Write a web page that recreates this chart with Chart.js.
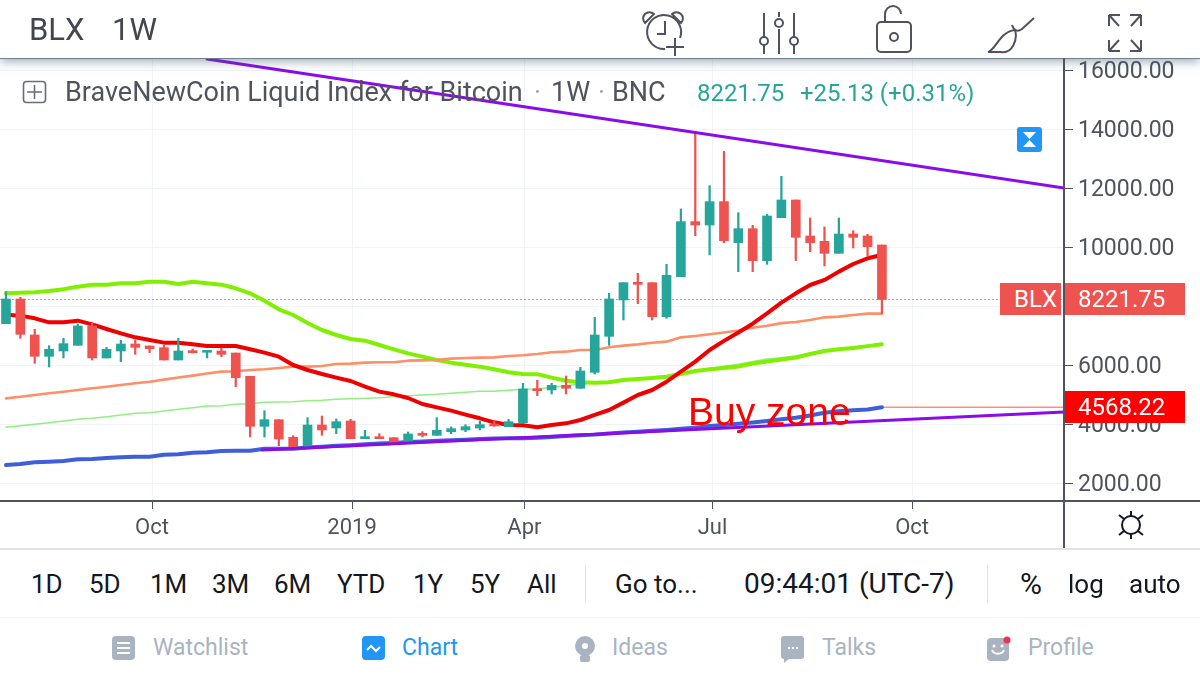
<!DOCTYPE html>
<html lang="en">
<head>
  <meta charset="UTF-8" />
  <title>BLX 1W</title>
  <script src="https://cdn.jsdelivr.net/npm/chart.js"></script>
  <style>
    html, body { margin: 0; padding: 0; background: #fff; }
    body { width: 1200px; height: 675px; position: relative; overflow: hidden; font-family: Roboto, sans-serif; color: #131722; }
    canvas { position: absolute; left: 0; top: 58px; }
    .t { position: absolute; white-space: pre; transform: translateY(-50%); line-height: 1; }
    .hd { font-size: 31px; color: #434651; top: 29px; }
    .lg { font-size: 27px; color: #50535e; top: 92px; }
    .pc { font-size: 24px; color: #26a69a; top: 93px; }
    .rg { font-size: 26px; top: 584px; }
    .nv { font-size: 23px; color: #aab4c0; top: 647px; }
    .box { position: absolute; color: #fff; font-size: 24px; line-height: 32px; height: 32px; white-space: pre; }
    .ln { position: absolute; }
    svg { position: absolute; }
  </style>
</head>
<body>
  <canvas id="grafico" width="1200" height="490"></canvas>

  <!-- barra superior -->
  <div class="ln" style="left:0;top:0;width:1200px;height:58px;background:#fff;box-shadow:0 2px 10px rgba(70,90,110,.55);border-bottom:1px solid #6f8090"></div>
  <span class="t hd" style="left:29px">BLX</span>
  <span class="t hd" style="left:112px">1W</span>
  <svg style="left:640px;top:8px" width="60" height="50" fill="none" stroke="#50535e" stroke-width="2">
    <path d="M25 41A17 17 0 1 1 40 30M25 13v13h-8M5 15a6 6 0 0 1 9-9zM41 15a6 6 0 0 0-9-9zM26 39h18M35 30v18"/>
  </svg>
  <svg style="left:755px;top:8px" width="48" height="50" fill="none" stroke="#50535e" stroke-width="2">
    <path d="M9 5v24M9 37v9M24 4v5M24 21v25M39 5v24M39 37v9"/><circle cx="9" cy="33" r="4"/><circle cx="24" cy="15" r="4"/><circle cx="39" cy="33" r="4"/>
  </svg>
  <svg style="left:870px;top:2px" width="48" height="54" fill="none" stroke="#50535e" stroke-width="2">
    <rect x="7" y="20" width="34" height="30" rx="4"/><circle cx="24" cy="35" r="4"/><path d="M15 20v-8a8 8 0 0 1 16 0"/>
  </svg>
  <svg style="left:980px;top:8px" width="56" height="50" fill="none" stroke="#50535e" stroke-width="2">
    <path d="M8 44c8-2 11-20 27-22 3 10-3 24-14 22zM8 44h13M32 17c2 6 6 7 10 4l12-11"/>
  </svg>
  <svg style="left:1105px;top:10px" width="40" height="46" fill="none" stroke="#50535e" stroke-width="2">
    <path d="M4 5h11M4 5v11M4 5l10 11M36 5h-11M36 5v11M36 5l-10 11M4 41h11M4 41v-11M4 41l10-11M36 41h-11M36 41v-11M36 41l-10-11"/>
  </svg>

  <!-- leyenda -->
  <svg style="left:22px;top:80px" width="26" height="25" fill="none" stroke="#6a6d78" stroke-width="1.6">
    <rect x="1.5" y="1.5" width="22" height="21" rx="3"/><path d="M12.5 5v14M5 12h15"/>
  </svg>
  <span class="t lg" style="left:65px">BraveNewCoin Liquid Index for Bitcoin</span>
  <span class="t lg" style="left:534px;color:#a0a3ac">·</span>
  <span class="t lg" style="left:551px">1W</span>
  <span class="t lg" style="left:598px;color:#a0a3ac">·</span>
  <span class="t lg" style="left:612px">BNC</span>
  <span class="t pc" style="left:697px">8221.75</span>
  <span class="t pc" style="left:800px">+25.13 (+0.31%)</span>

  <svg style="left:1017px;top:127px" width="25" height="25">
    <rect width="25" height="25" rx="3" fill="#2196f3"/><path d="M6 5h13l-6.5 7zM6 20h13l-6.5-7z" fill="#fff"/>
  </svg>

  <!-- etiquetas de precio -->
  <div class="box" style="left:1000px;top:283px;width:61px;background:#ef5350;text-indent:14px">BLX</div>
  <div class="box" style="left:1064px;top:283px;width:121px;background:#ef5350;text-indent:14px">8221.75</div>
  <div class="box" style="left:1064px;top:391px;width:121px;background:#f00;text-indent:14px">4568.22</div>
  <span class="t" style="left:688px;top:412px;font:39px 'Liberation Sans',sans-serif;color:#f00;transform:translateY(-50%)">Buy zone</span>

  <!-- lineas de los ejes -->
  <div class="ln" style="left:1063px;top:58px;width:2px;height:490px;background:#50535e"></div>
  <div class="ln" style="left:1064px;top:500px;width:136px;height:2px;background:#50535e"></div>
  <div class="ln" style="left:0;top:548px;width:1200px;height:2px;background:#e0e3eb"></div>
  <div class="ln" style="left:0;top:617px;width:1200px;height:1px;background:#f0f3fa"></div>
  <div class="ln" style="left:585px;top:565px;width:1px;height:38px;background:#e0e3eb"></div>
  <div class="ln" style="left:987px;top:565px;width:1px;height:38px;background:#e0e3eb"></div>
  <svg style="left:1116px;top:510px" width="30" height="30" fill="none" stroke="#131722" stroke-width="2">
    <circle cx="15" cy="15" r="9"/><path d="M15 1v5M15 24v5M3 5l5 4M27 5l-5 4M3 25l5-4M27 25l-5-4"/>
  </svg>

  <!-- rango -->
  <span class="t rg" style="left:31px">1D</span>
  <span class="t rg" style="left:89px">5D</span>
  <span class="t rg" style="left:150px">1M</span>
  <span class="t rg" style="left:212px">3M</span>
  <span class="t rg" style="left:274px">6M</span>
  <span class="t rg" style="left:337px">YTD</span>
  <span class="t rg" style="left:413px">1Y</span>
  <span class="t rg" style="left:470px">5Y</span>
  <span class="t rg" style="left:527px">All</span>
  <span class="t rg" style="left:615px">Go to...</span>
  <span class="t rg" style="left:744px;font-size:28px">09:44:01 (UTC-7)</span>
  <span class="t rg" style="left:1020px;font-size:30px">%</span>
  <span class="t rg" style="left:1068px">log</span>
  <span class="t rg" style="left:1129px">auto</span>

  <!-- navegacion -->
  <svg style="left:112px;top:636px" width="23" height="24"><rect width="23" height="24" rx="4" fill="#aab4c0"/><path d="M5 7h13M5 12h13M5 17h13" stroke="#fff" stroke-width="2"/></svg>
  <span class="t nv" style="left:153px">Watchlist</span>
  <svg style="left:362px;top:636px" width="23" height="24"><rect width="23" height="24" rx="4" fill="#2196f3"/><path d="M5 14l4-4 5 5 4-4" stroke="#fff" stroke-width="2" fill="none"/></svg>
  <span class="t nv" style="left:402px;color:#2196f3">Chart</span>
  <svg style="left:574px;top:636px" width="22" height="26"><circle cx="11" cy="10" r="10" fill="#aab4c0"/><rect x="6" y="19" width="10" height="7" rx="2" fill="#aab4c0"/><circle cx="11" cy="10" r="3" fill="#fff"/></svg>
  <span class="t nv" style="left:612px">Ideas</span>
  <svg style="left:781px;top:636px" width="23" height="27"><path d="M3 0h17a3 3 0 0 1 3 3v17a3 3 0 0 1-3 3H8l-5 4v-4a3 3 0 0 1-3-3V3a3 3 0 0 1 3-3z" fill="#aab4c0"/><path d="M7 12h2M11 12h2M15 12h2" stroke="#fff" stroke-width="2"/></svg>
  <span class="t nv" style="left:822px">Talks</span>
  <svg style="left:987px;top:636px" width="24" height="26"><rect y="2" width="22" height="23" rx="4" fill="#aab4c0"/><path d="M5 14c2 5 10 5 12 0" stroke="#fff" stroke-width="2" fill="none"/><circle cx="7" cy="10" r="1.5" fill="#fff"/><circle cx="15" cy="10" r="1.5" fill="#fff"/><circle cx="20" cy="4" r="3.5" fill="#f0314f"/></svg>
  <span class="t nv" style="left:1028px">Profile</span>

  <script>
    // velas semanales
    const opens = [7402, 8238, 7018, 6294, 6475, 6667, 7323, 6238, 6475, 6712,
      6645, 6588, 6170, 6475, 6430, 6475, 6407, 5616, 3921, 4147,
      3548, 3198, 3966, 3865, 4102, 3503, 3537, 3537, 3367, 3673,
      3616, 3740, 3797, 3865, 3978, 3910, 4046, 5187, 5153, 5311,
      5210, 5752, 6972, 8204, 8792, 8792, 7639, 8995, 10860, 10746,
      11538, 10148, 10622, 9537, 10995, 11594, 10374, 10193, 9786, 10441, 10374, 10068];
    const closes = [8238, 7040, 6294, 6532, 6724, 7323, 6238, 6532, 6712, 6599,
      6554, 6170, 6475, 6419, 6475, 6362, 5571, 3921, 4147, 3492,
      3198, 3966, 3797, 4079, 3503, 3537, 3503, 3367, 3661, 3616,
      3786, 3842, 3910, 3978, 3933, 4079, 5187, 5130, 5311, 5210,
      5797, 7017, 8238, 8792, 8735, 7639, 9040, 10860, 10746, 11538,
      10215, 10622, 9537, 11052, 11594, 10328, 10148, 9786, 10441, 10328, 10012, 8221.75];
    const highs = [8486, 8294, 7210, 6656, 6904, 7390, 7413, 6599, 6837, 6848,
      6645, 6678, 6904, 6543, 6475, 6566, 6407, 5616, 4452, 4147,
      3605, 4215, 4272, 4170, 4159, 3786, 3673, 3537, 3729, 3740,
      4215, 3899, 3978, 4102, 4102, 4159, 5379, 5481, 5379, 5628,
      5921, 7616, 8430, 8792, 9108, 8792, 9413, 11289, 13910, 12080,
      13244, 11165, 10735, 11108, 12396, 11594, 10984, 10678, 10984, 10554, 10430, 10068];
    const lows = [7402, 6904, 6057, 5933, 6238, 6667, 6170, 6238, 6114, 6362,
      6419, 6170, 6170, 6407, 6238, 6283, 5266, 3560, 3560, 3266,
      3198, 3198, 3616, 3673, 3503, 3503, 3503, 3367, 3367, 3560,
      3616, 3673, 3740, 3797, 3921, 3910, 4046, 4961, 5017, 5017,
      5210, 5695, 6667, 7526, 8080, 7526, 7582, 8995, 10385, 9730,
      10148, 9165, 9165, 9413, 10995, 9537, 9842, 9357, 9786, 9967, 9673, 7752];

    // medias moviles
    const maRed = [7700, 7673, 7583, 7447, 7447, 7503, 7379, 7221, 7074, 6938,
      6848, 6758, 6758, 6701, 6645, 6645, 6645, 6532, 6419, 6283,
      6000, 5831, 5695, 5571, 5458, 5266, 5097, 5006, 4882, 4678,
      4565, 4452, 4317, 4193, 4057, 3966, 3955, 3888, 3966, 4023,
      4136, 4306, 4475, 4724, 4983, 5153, 5435, 5774, 6113, 6509,
      6818, 7100, 7400, 7752, 8114, 8430, 8712, 8882, 9165, 9424, 9617, 9729];
    const maLime = [8430, 8453, 8464, 8509, 8566, 8656, 8724, 8724, 8769, 8769,
      8825, 8825, 8746, 8825, 8769, 8724, 8600, 8430, 8181, 7888,
      7695, 7424, 7187, 7017, 6882, 6825, 6678, 6532, 6396, 6283,
      6170, 6080, 6012, 5944, 5854, 5752, 5695, 5690, 5571, 5469,
      5413, 5402, 5413, 5492, 5526, 5560, 5605, 5695, 5797, 5854,
      5900, 5950, 6050, 6120, 6190, 6250, 6373, 6475, 6532, 6580, 6640, 6701];
    const maThinGreen = [3887, 3940, 3990, 4045, 4100, 4158, 4192, 4250, 4305, 4362,
      4385, 4440, 4498, 4555, 4611, 4622, 4667, 4690, 4735, 4745,
      4757, 4791, 4803, 4837, 4859, 4870, 4893, 4927, 4961, 4983,
      5006, 5040, 5074, 5108, 5108, 5142, 5176, 5190, 5243, 5300,
      5356, 5402, 5440, 5500, 5540, 5590, 5640, 5720, 5800, 5880,
      5960, 6030, 6120, 6200, 6250, 6310, 6390, 6490, 6545, 6600, 6660, 6715];
    const maOrange = [4870, 4925, 4985, 5040, 5095, 5153, 5210, 5265, 5320, 5380,
      5435, 5505, 5575, 5640, 5710, 5775, 5790, 5831, 5854, 5899,
      5944, 5944, 5967, 6034, 6046, 6080, 6091, 6091, 6147, 6158,
      6170, 6215, 6238, 6249, 6260, 6306, 6330, 6373, 6430, 6452,
      6509, 6509, 6600, 6656, 6700, 6757, 6791, 6938, 6984, 7040,
      7100, 7170, 7260, 7330, 7420, 7460, 7526, 7616, 7639, 7695, 7741, 7741];
    const maBlue = [2610, 2644, 2700, 2724, 2746, 2803, 2814, 2848, 2870, 2893,
      2893, 2961, 2972, 3029, 3040, 3085, 3097, 3097, 3164, 3164,
      3164, 3200, 3230, 3260, 3280, 3310, 3340, 3360, 3390, 3410,
      3430, 3450, 3470, 3490, 3505, 3515, 3520, 3530, 3560, 3590,
      3620, 3640, 3680, 3710, 3740, 3770, 3800, 3840, 3870, 3930,
      3970, 4010, 4050, 4100, 4160, 4210, 4290, 4380, 4430, 4470, 4495, 4568];

    // lineas de tendencia dibujadas: [semana, precio]
    const trendUpperWeeks = [14, 73.68];
    const trendUpperPrices = [16374, 12000];
    const trendLowerWeeks = [17.83, 73.68];
    const trendLowerPrices = [3119, 4407];
    const lastPrice = 8221.75;
    const zonePrice = 4568.22;

    const xTickWeeks = [10.17, 24.1, 36.1, 49.2, 63.1];
    const xTickLabels = ['Oct', '2019', 'Apr', 'Jul', 'Oct'];
    const yTickValues = [2000, 4000, 6000, 8000, 10000, 12000, 14000, 16000];

    const xMin = -0.418, xMax = 73.68;
    const yMin = 1390, yMax = 16407;

    const up = '#26a69a', down = '#ef5350';
    const candleColors = opens.map((o, i) => closes[i] < o ? down : up);
    const series = arr => arr.map((v, i) => ({ x: i, y: v }));
    const pairs = (xs, ys) => xs.map((x, i) => ({ x, y: ys[i] }));

    const lineDs = (data, color, width, order, extra) => Object.assign({
      type: 'line', data, borderColor: color, borderWidth: width, order,
      pointRadius: 0, tension: 0, borderJoinStyle: 'round', borderCapStyle: 'round'
    }, extra);

    // sin margenes extra: el area del grafico llena el lienzo hasta los ejes
    const noPadding = s => { s.paddingTop = s.paddingBottom = s.paddingLeft = s.paddingRight = 0; };

    new Chart(document.getElementById('grafico').getContext('2d'), {
      data: {
        datasets: [
          lineDs(pairs(trendUpperWeeks, trendUpperPrices), '#8a0ce8', 3, 0),
          lineDs(pairs(trendLowerWeeks, trendLowerPrices), '#8a0ce8', 3, 0),
          { type: 'bar', order: 1, data: opens.map((o, i) => ({ x: i, y: [o, closes[i]] })),
            backgroundColor: candleColors, barThickness: 9, minBarLength: 2, grouped: false },
          { type: 'bar', order: 2, data: lows.map((l, i) => ({ x: i, y: [l, highs[i]] })),
            backgroundColor: candleColors, barThickness: 1.6, grouped: false },
          lineDs(series(maRed), '#ee0000', 4, 3),
          lineDs(series(maLime), '#80f000', 4, 5),
          lineDs(series(maThinGreen), '#93ee83', 1.5, 6),
          lineDs(series(maOrange), '#ff8f66', 2.6, 4),
          lineDs(series(maBlue), '#3f5fd8', 4, 7),
          lineDs(pairs([61, xMax], [zonePrice, zonePrice]), '#ff8f80', 1.6, 8),
          lineDs(pairs([xMin, xMax], [lastPrice, lastPrice]), '#ff8080', 1, 9, { borderDash: [2, 2], borderCapStyle: 'butt' })
        ]
      },
      options: {
        responsive: false,
        animation: false,
        layout: { padding: 0, autoPadding: false },
        plugins: { legend: { display: false }, tooltip: { enabled: false } },
        scales: {
          x: {
            type: 'linear', min: xMin, max: xMax, offset: false,
            afterBuildTicks: s => { s.ticks = xTickWeeks.map(v => ({ value: v })); },
            afterFit: s => { s.height = 47; noPadding(s); },
            grid: { offset: false, color: '#f0f3fa', tickColor: '#50535e', tickLength: 8 },
            border: { color: '#50535e', width: 2 },
            ticks: {
              color: '#50535e', font: { family: 'Roboto', size: 22 }, padding: 6,
              maxRotation: 0, autoSkip: false,
              callback: v => xTickLabels[xTickWeeks.indexOf(v)]
            }
          },
          y: {
            position: 'right', min: yMin, max: yMax,
            afterBuildTicks: s => { s.ticks = yTickValues.map(v => ({ value: v })); },
            afterFit: s => { s.width = 136; noPadding(s); },
            grid: { color: '#f0f3fa', tickColor: '#50535e', tickLength: 9 },
            border: { color: '#50535e', width: 2 },
            ticks: {
              color: '#50535e', font: { family: 'Roboto', size: 23 }, padding: 5, labelOffset: 2,
              callback: v => v.toFixed(2)
            }
          }
        }
      }
    });
  </script>
</body>
</html>
